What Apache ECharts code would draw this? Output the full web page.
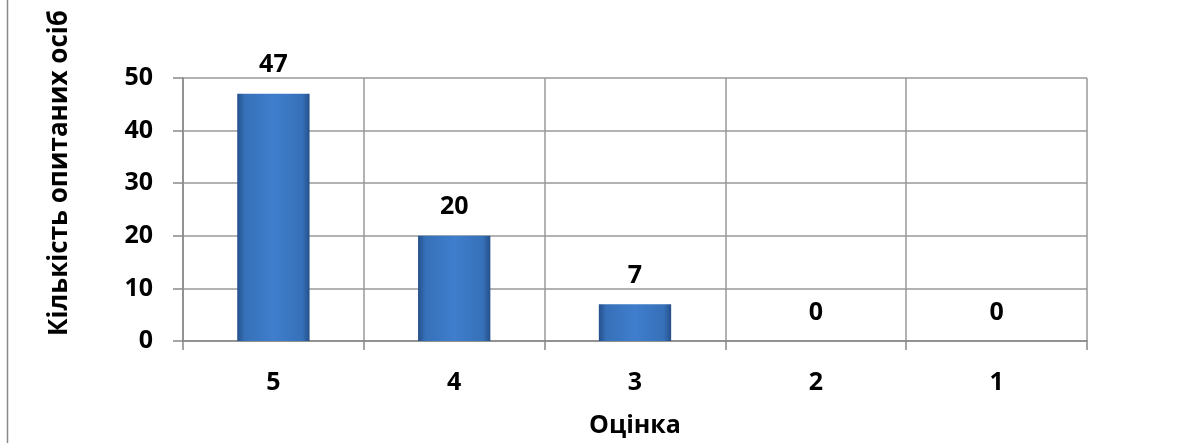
<!DOCTYPE html>
<html><head><meta charset="utf-8">
<script src="https://cdn.jsdelivr.net/npm/echarts@6/dist/echarts.min.js"></script>
<style>html,body{margin:0;padding:0;background:#fff}#c{width:1187px;height:443px}</style>
</head><body><div id="c"></div>
<script>
const categories = ['5', '4', '3', '2', '1'];
const values = [47, 20, 7, 0, 0];
const yTicks = [0, 10, 20, 30, 40, 50];
const xTitle = 'Оцінка';
const yTitle = 'Кількість опитаних осіб';

const FONT = '"Open Sans", "DejaVu Sans", sans-serif';
const FS = 25;
const chart = echarts.init(document.getElementById('c'));
const barColor = new echarts.graphic.LinearGradient(0, 0, 1, 0, [
  {offset: 0, color: '#24508a'},
  {offset: 0.1, color: '#3670b8'},
  {offset: 0.5, color: '#3f7ecd'},
  {offset: 0.9, color: '#3670b8'},
  {offset: 1, color: '#24508a'}
]);
chart.setOption({
  animation: false,
  grid: {left: 183, right: 100, top: 78, bottom: 100},
  xAxis: {
    type: 'category', data: categories,
    name: xTitle, nameLocation: 'middle', nameGap: 72,
    nameTextStyle: {fontFamily: FONT, fontWeight: 'bold', fontSize: FS, color: '#000'},
    axisLine: {lineStyle: {color: '#888', width: 1.5}},
    axisTick: {show: true, length: 9, lineStyle: {color: '#888', width: 1.5}},
    axisLabel: {margin: 29, fontFamily: FONT, fontWeight: 'bold', fontSize: FS, color: '#000'},
    splitLine: {show: true, lineStyle: {color: '#999', width: 1.5}}
  },
  yAxis: {
    type: 'value', min: yTicks[0], max: yTicks[yTicks.length - 1], interval: yTicks[1] - yTicks[0],
    axisLine: {show: true, lineStyle: {color: '#888', width: 1.5}},
    axisTick: {show: true, length: 10, lineStyle: {color: '#888', width: 1.5}},
    axisLabel: {margin: 30, fontFamily: FONT, fontWeight: 'bold', fontSize: FS, color: '#000'},
    splitLine: {show: true, lineStyle: {color: '#999', width: 1.5}}
  },
  graphic: [
    {type: 'line', shape: {x1: 7.5, y1: 0, x2: 7.5, y2: 443}, style: {stroke: '#888', lineWidth: 1.5}},
    {type: 'text', x: 60, y: 173, rotation: Math.PI / 2,
     style: {text: yTitle, fontFamily: FONT, fontWeight: 'bold', fontSize: 26, fill: '#000', align: 'center', verticalAlign: 'middle'}}
  ],
  series: [{
    type: 'bar', data: values, barWidth: '40%',
    itemStyle: {color: barColor, borderWidth: 0},
    label: {show: true, position: 'top', distance: 16, fontFamily: FONT, fontWeight: 'bold', fontSize: FS, color: '#000'}
  }]
});
</script></body></html>
